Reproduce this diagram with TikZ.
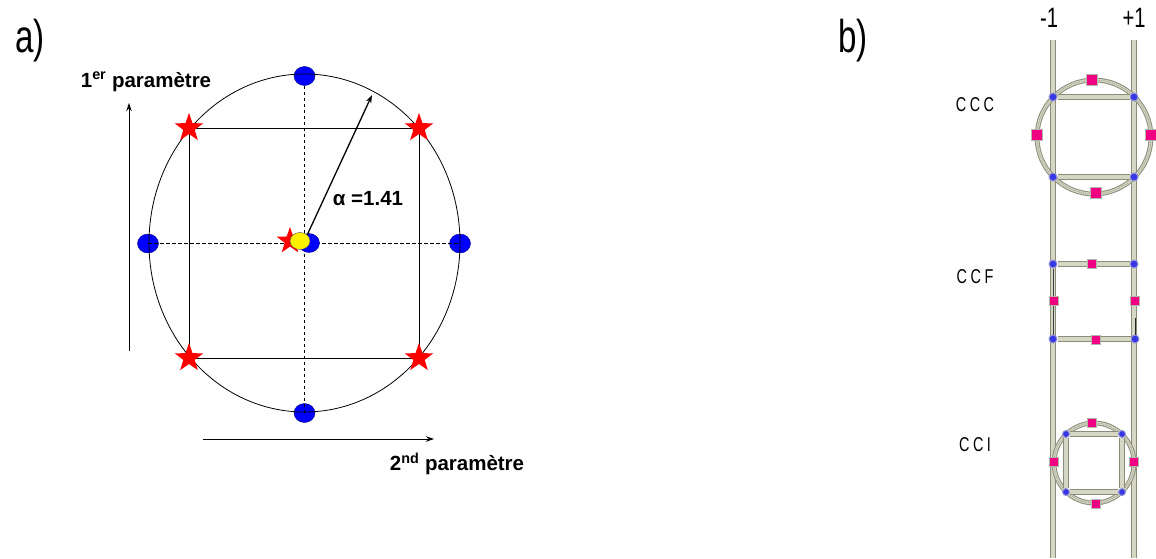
\documentclass[tikz,border=0pt]{standalone}
\usepackage{fontspec}
\setmainfont{Liberation Sans}
\newfontfamily\cond[FakeStretch=0.72]{Liberation Sans}
\usetikzlibrary{shapes.geometric,arrows.meta}
\definecolor{railout}{RGB}{140,140,122}
\definecolor{railin}{RGB}{214,214,196}
\definecolor{pinkc}{RGB}{240,0,130}
\definecolor{dotblue}{RGB}{55,55,230}
\tikzset{
  bluedot/.style={ellipse, draw=blue!45!black, fill=blue, minimum width=21pt, minimum height=19pt, inner sep=0pt},
  yellowdot/.style={ellipse, draw=black!70, fill=yellow, minimum width=20pt, minimum height=17pt, inner sep=0pt},
  redstar/.style={star, star points=5, star point ratio=2.5, fill=red, draw=none, minimum size=30pt, inner sep=0pt},
  rail/.style={draw=railout, double=railin, double distance=3.4pt, line width=1.1pt},
  ringline/.style={draw=railout, double=railin, double distance=2.8pt, line width=1pt},
  ringdots/.style={draw=railout!80, line width=1pt, dash pattern=on 1pt off 1.2pt},
  pinkbox/.style={rectangle, fill=pinkc, draw=railin!85!black, line width=1.8pt, minimum size=11pt, inner sep=0pt},
  cornerdot/.style={circle, fill=dotblue, draw=railin!70!blue, line width=1pt, minimum size=8pt, inner sep=0pt},
  axisarrow/.style={-{Stealth[length=8pt,width=5.5pt]}, line width=0.9pt},
  dashline/.style={line width=0.9pt, dash pattern=on 3.5pt off 2.5pt},
  biglabel/.style={font=\cond\fontsize{46}{46}\selectfont},
  rowlabel/.style={font=\cond\fontsize{20}{20}\selectfont},
  boldlabel/.style={font=\bfseries\fontsize{20.5}{20.5}\selectfont},
}
\begin{document}
\begin{tikzpicture}[x=1pt,y=-1pt]
\useasboundingbox (0,0) rectangle (1156,558);
% ---------- part a ----------
\node[biglabel] (la) at (30,41) {a)};
% blue dots
\node[bluedot] (dtop) at (304.5,76) {};
\node[bluedot] (dleft) at (148,243.5) {};
\node[bluedot] (dright) at (460,243.5) {};
\node[bluedot] (dbot) at (304.5,413) {};
% ellipse
\draw[line width=0.8pt] (304.5,243) ellipse [x radius=155.5pt, y radius=169pt];
% dashed axes
\draw[dashline] (dleft.center) -- (dright.center);
\draw[dashline] (dtop.south) -- (dbot.center);
% square
\coordinate (ctl) at (189,128);
\coordinate (ctr) at (419,128);
\coordinate (cbr) at (419,358);
\coordinate (cbl) at (189,358);
\draw[line width=0.8pt] (ctl) -- (ctr) -- (cbr) -- (cbl) -- cycle;
\node[redstar] (stl) at (ctl) {};
\node[redstar] (str) at (ctr) {};
\node[redstar] (sbr) at (cbr) {};
\node[redstar] (sbl) at (cbl) {};
% centre
\node[redstar, minimum size=28pt] (sc) at (290,241) {};
\node[bluedot] (dc) at (309,243) {};
\node[yellowdot] (yc) at (300,241) {};
\coordinate (atip) at (372,95);
\draw[axisarrow, line width=1.3pt] (yc.north east) -- (atip);
\node[boldlabel] (alpha) at (368,199) {α =1.41};
% axes
\coordinate (vax0) at (129,351);
\coordinate (vax1) at (129,103);
\draw[axisarrow] (vax0) -- (vax1);
\node[boldlabel] (p1) at (146,82) {1\textsuperscript{er} paramètre};
\coordinate (hax0) at (203,439);
\coordinate (hax1) at (434,439);
\draw[axisarrow] (hax0) -- (hax1);
\node[boldlabel] (p2) at (457,464) {2\textsuperscript{nd} paramètre};
% ---------- part b ----------
\node[biglabel] (lb) at (853,41) {b)};
\node[font=\cond\fontsize{28}{28}\selectfont] (m1) at (1049,18) {-1};
\node[font=\cond\fontsize{28}{28}\selectfont] (p1b) at (1134,18) {+1};
\coordinate (lr0) at (1053,40);
\coordinate (lr1) at (1053,558);
\coordinate (rr0) at (1134,40);
\coordinate (rr1) at (1134,558);
\draw[rail] (lr0) -- (lr1);
\draw[rail] (rr0) -- (rr1);
% CCC
\node[rowlabel] (tccc) at (975,105) {C\hspace{3.5pt}C\hspace{3.5pt}C};
\draw[ringline] (1094,137) circle [radius=57pt];
\draw[ringdots] (1094,137) circle [radius=57pt];
\node[cornerdot] (a1) at (1053,97) {};
\node[cornerdot] (a2) at (1134,97) {};
\node[cornerdot] (a3) at (1053,177) {};
\node[cornerdot] (a4) at (1134,177) {};
\draw[rail] (a1) -- (a2);
\draw[rail] (a3) -- (a4);
\node[pinkbox] (q1) at (1092,80) {};
\node[pinkbox] (q2) at (1037,135) {};
\node[pinkbox] (q3) at (1151,135) {};
\node[pinkbox] (q4) at (1096,193) {};
% CCF
\node[rowlabel] (tccf) at (975,277) {C\hspace{3.5pt}C\hspace{3.5pt}F};
\node[cornerdot] (b1) at (1053,264) {};
\node[cornerdot] (b2) at (1134,264) {};
\node[cornerdot] (b3) at (1053,339) {};
\node[cornerdot] (b4) at (1135,339) {};
\draw[rail] (b1) -- (b2);
\draw[rail] (b3) -- (b4);
\draw[line width=0.8pt, black!75] (b1) -- (b3);
\draw[line width=0.8pt, black!85] (1135,318) -- (b4);
\node[pinkbox, minimum size=9pt] (r1) at (1092,264) {};
\node[pinkbox, minimum size=9pt] (r2) at (1054,301) {};
\node[pinkbox, minimum size=9pt] (r3) at (1135,301) {};
\node[pinkbox, minimum size=9pt] (r4) at (1096,340) {};
% CCI
\node[rowlabel] (tcci) at (975,445) {C\hspace{3.5pt}C\hspace{3.5pt}I};
\draw[ringline] (1094,463) circle [radius=40pt];
\draw[ringdots] (1094,463) circle [radius=40pt];
\node[cornerdot, minimum size=7pt] (c1) at (1066,434) {};
\node[cornerdot, minimum size=7pt] (c2) at (1122,434) {};
\node[cornerdot, minimum size=7pt] (c3) at (1066,492) {};
\node[cornerdot, minimum size=7pt] (c4) at (1122,492) {};
\draw[rail] (c1) -- (c2);
\draw[rail] (c3) -- (c4);
\draw[rail] (c1) -- (c3);
\draw[rail] (c2) -- (c4);
\node[pinkbox, minimum size=9pt] (s1) at (1092,423) {};
\node[pinkbox, minimum size=9pt] (s2) at (1054,462) {};
\node[pinkbox, minimum size=9pt] (s3) at (1134,462) {};
\node[pinkbox, minimum size=9pt] (s4) at (1096,504) {};
\end{tikzpicture}
\end{document}
